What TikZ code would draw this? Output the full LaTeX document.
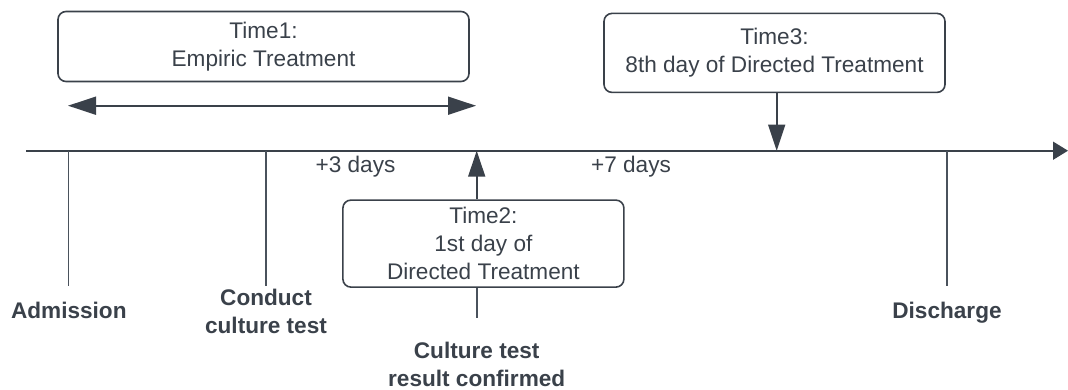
\documentclass[tikz,border=0pt]{standalone}
\usepackage{fontspec}
\setmainfont{Liberation Sans}
\usetikzlibrary{arrows.meta}
\definecolor{ink}{HTML}{3A414A}
\definecolor{tickc}{HTML}{4A525C}
\begin{document}
\begin{tikzpicture}[x=1pt,y=-1pt,
  box/.style={draw=ink, line width=1.6pt, rounded corners=8pt, align=center, text=ink, font=\fontsize{22.6}{28}\selectfont, inner sep=0pt},
  lbl/.style={align=center, text=ink, font=\fontsize{22.6}{27.5}\selectfont\bfseries, inner sep=0pt},
  plain/.style={text=ink, font=\fontsize{22.6}{27}\selectfont, inner sep=0pt},
  ln/.style={draw=ink, line width=1.6pt},
  tickline/.style={draw=tickc, line width=1.6pt},
  tipped/.style={-{Triangle[length=26pt,width=17pt]}},
  dbl/.style={{Triangle[length=28pt,width=18pt]}-{Triangle[length=28pt,width=18pt]}}]
\useasboundingbox (0,0) rectangle (1068,389);

% boxes
\node[box, minimum width=411pt, minimum height=70pt] (t1) at (263.5,46.5) {Time1:\\Empiric Treatment};
\node[box, minimum width=341pt, minimum height=79pt] (t3) at (774.5,52.9) {Time3:\\8th day of Directed Treatment};
\node[box, minimum width=281pt, minimum height=87pt] (t2) at (483.4,243.6) {Time2:\\1st day of\\Directed Treatment};

% double arrow
\coordinate (e1) at (68,105.7);
\coordinate (e2) at (476,105.7);
\draw[ln, dbl] (e1) -- (e2);

% main timeline
\coordinate (m0) at (26,150.7);
\coordinate (m1) at (1068,150.7);
\draw[ln, -{Triangle[length=15pt,width=18pt]}] (m0) -- (m1);

% ticks
\coordinate (ad0) at (68.3,150.7);  \coordinate (ad1) at (68.3,286);
\coordinate (cd0) at (265.7,150.7); \coordinate (cd1) at (265.7,286);
\coordinate (ds0) at (946.7,150.7); \coordinate (ds1) at (946.7,286);
\draw[tickline] (ad0) -- (ad1);
\draw[tickline] (cd0) -- (cd1);
\draw[tickline] (ds0) -- (ds1);

% time2 / time3 arrows
\coordinate (a2) at (476.7,150.7);
\coordinate (c2) at (476.7,318);
\coordinate (a3) at (776.7,150.7);
\draw[ln, tipped] (t2.north -| a2) -- (a2);
\draw[tickline] (t2.south -| c2) -- (c2);
\draw[ln, tipped] (t3.south -| a3) -- (a3);

% labels
\node[lbl, anchor=base] (adm) at (68.8,318) {Admission};
\node[lbl] (cond) at (266,311.2) {Conduct\\culture test};
\node[lbl, anchor=base] (dis) at (947,318) {Discharge};
\node[lbl] (cult) at (476.7,364.5) {Culture test\\result confirmed};
\node[plain, anchor=base] (d3) at (355.5,172) {+3 days};
\node[plain, anchor=base] (d7) at (631,172) {+7 days};
\end{tikzpicture}
\end{document}
